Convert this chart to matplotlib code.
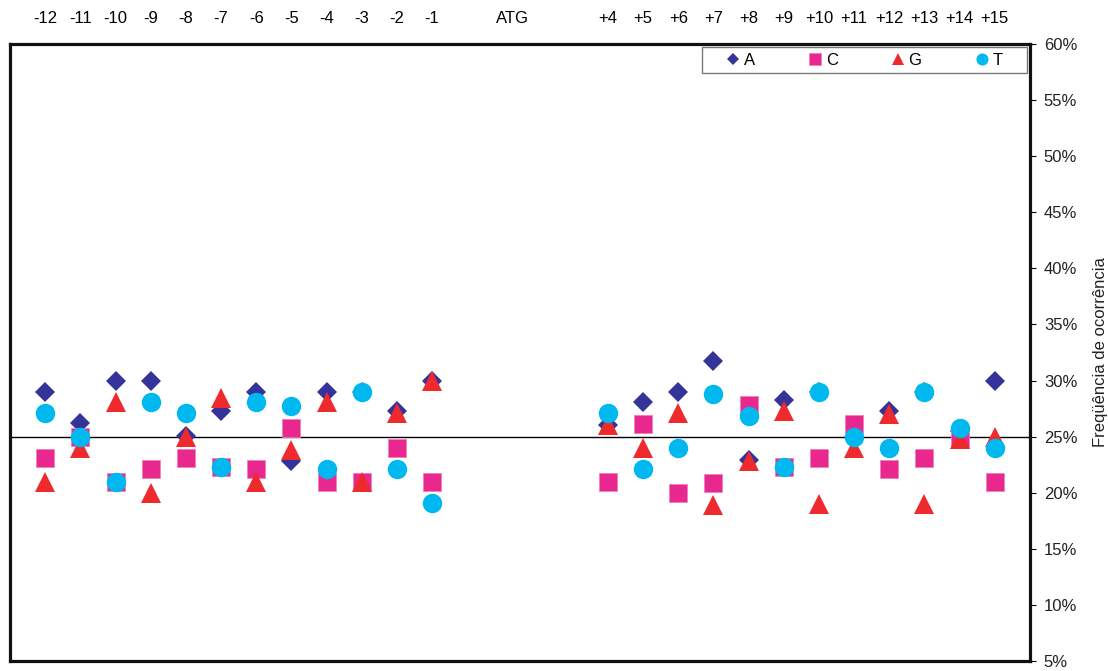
import matplotlib.pyplot as plt
from matplotlib.patches import Rectangle
from matplotlib.ticker import FuncFormatter, MultipleLocator

plt.rcParams["font.family"] = ["Liberation Sans", "DejaVu Sans"]

# posicoes em torno do ATG (o ATG ocupa o espaco central)
posicoes = ["-12", "-11", "-10", "-9", "-8", "-7", "-6", "-5", "-4", "-3", "-2", "-1",
            "+4", "+5", "+6", "+7", "+8", "+9", "+10", "+11", "+12", "+13", "+14", "+15"]

# frequencia (%) de cada nucleotideo por posicao
freq_A = [29, 26.2, 30, 30, 25.1, 27.3, 29, 22.8, 29, 29, 27.3, 30,
          26, 28.1, 29, 31.7, 22.9, 28.3, 29, 25, 27.3, 29, 25.5, 30]
freq_C = [23.1, 25, 21, 22.1, 23.1, 22.3, 22.1, 25.8, 21, 21, 24, 21,
          21, 26.1, 20, 20.9, 27.8, 22.3, 23.1, 26.1, 22.1, 23.1, 24.9, 21]
freq_G = [21, 24, 28.1, 20, 25, 28.4, 21, 23.8, 28.1, 21, 27.1, 30,
          26, 24, 27.1, 18.9, 22.8, 27.3, 19, 24, 27, 19, 24.8, 25]
freq_T = [27.1, 25, 21, 28.1, 27.1, 22.3, 28.1, 27.7, 22.1, 29, 22.1, 19.1,
          27.1, 22.1, 24, 28.8, 26.8, 22.3, 29, 25, 24, 29, 25.8, 24]

# indice no eixo x: salto de 4 posicoes para o ATG
xs = [i if i < 12 else i + 4 for i in range(len(posicoes))]

fig = plt.figure(figsize=(11.08, 6.71), dpi=100)
ax = fig.add_axes([10 / 1108, 1 - 661 / 671, 1020 / 1108, 617 / 671])

ax.axhline(25, color="black", lw=1.0, zorder=1)

ax.plot(xs, freq_A, "D", color="#333399", ms=9.8, mew=0, label="A", zorder=2)
ax.plot(xs, freq_C, "s", color="#E8288E", ms=13.5, mew=0.6, mec="#F080B8", label="C", zorder=3)
ax.plot(xs, freq_G, "^", color="#EE2A2E", ms=14, mew=0, label="G", zorder=4)
ax.plot(xs, freq_T, "o", color="#00B8F0", ms=14, mew=0, label="T", zorder=5)

ax.set_xlim(-1, 28)
ax.set_ylim(5, 60)

ax.xaxis.tick_top()
ax.set_xticks(xs + [13.3])
ax.set_xticklabels(posicoes + ["ATG"], fontsize=12)
ax.tick_params(axis="x", length=0, pad=13)

ax.yaxis.tick_right()
ax.yaxis.set_label_position("right")
ax.yaxis.set_major_locator(MultipleLocator(5))
ax.yaxis.set_major_formatter(FuncFormatter(lambda v, p: f"{v:.0f}%"))
ax.tick_params(axis="y", direction="out", length=4, width=0.8, labelsize=12, pad=6,
               labelcolor="#222222")
ax.set_ylabel("Freqüência de ocorrência", fontsize=12, labelpad=11, color="#222222")

for s in ax.spines.values():
    s.set_linewidth(2.3)
    s.set_color("#111111")

# caixa da legenda (estilo Excel, larga e baixa)
caixa = (0.6784, 0.953, 0.3186, 0.042)
ax.add_patch(Rectangle(caixa[:2], caixa[2], caixa[3], transform=ax.transAxes,
                       facecolor="white", edgecolor="#777777", lw=1.0, zorder=6))
leg = ax.legend(loc="center", bbox_to_anchor=caixa, ncol=4, fontsize=12,
                frameon=False, markerscale=0.62, handlelength=0.8, handletextpad=0.25,
                columnspacing=3.2, borderpad=0, borderaxespad=0)
leg.set_zorder(7)

fig.savefig("out.png", dpi=100)
